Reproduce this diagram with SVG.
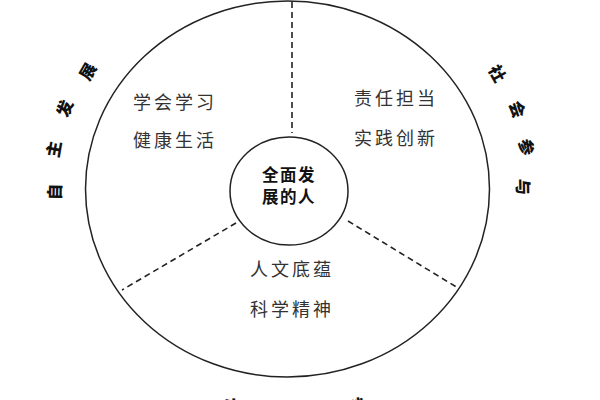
<svg xmlns="http://www.w3.org/2000/svg" width="600" height="400" viewBox="0 0 600 400">
<style>
.ring{fill:none;stroke:#222;stroke-width:1.5}
.dash{fill:none;stroke:#222;stroke-width:1.6;stroke-dasharray:6 4}
.in{font-family:"Noto Sans CJK SC","Noto Sans",sans-serif;font-size:18px;fill:#333;letter-spacing:3px}
.ctr{font-family:"Noto Sans CJK SC","Noto Sans",sans-serif;font-size:16.5px;font-weight:bold;fill:#111;letter-spacing:1.5px}
.side{font-family:"Noto Sans CJK SC","Noto Sans",sans-serif;font-size:16.5px;font-weight:900;fill:#111;text-anchor:middle;dominant-baseline:central}
</style>
<rect width="600" height="400" fill="#fff"/>
<g id="outer">
<ellipse class="ring" cx="287.5" cy="189" rx="202" ry="188"/>
</g>
<g id="connectors">
<line class="dash" x1="292" y1="2" x2="292" y2="133"/>
<line class="dash" x1="236" y1="223" x2="122" y2="290"/>
<line class="dash" x1="348" y1="221" x2="458" y2="288"/>
</g>
<g id="center">
<ellipse class="ring" cx="289" cy="191" rx="59" ry="54"/>
<text class="ctr" x="262" y="180.5">全面发</text>
<text class="ctr" x="262" y="203">展的人</text>
</g>
<g id="sector-left">
<text class="in" x="133" y="108.5">学会学习</text>
<text class="in" x="133" y="147">健康生活</text>
</g>
<g id="sector-right">
<text class="in" x="354" y="105">责任担当</text>
<text class="in" x="354" y="144.5">实践创新</text>
</g>
<g id="sector-bottom">
<text class="in" x="250" y="276">人文底蕴</text>
<text class="in" x="250" y="315.5">科学精神</text>
</g>
<g id="label-left">
<text class="side" transform="translate(54,192) rotate(-89)">自</text>
<text class="side" transform="translate(53,149) rotate(-80)">主</text>
<text class="side" transform="translate(64,108) rotate(-70)">发</text>
<text class="side" transform="translate(87,71) rotate(-60)">展</text>
</g>
<g id="label-right">
<text class="side" transform="translate(498,73) rotate(61)">社</text>
<text class="side" transform="translate(518,109) rotate(71)">会</text>
<text class="side" transform="translate(527,147) rotate(80)">参</text>
<text class="side" transform="translate(524,187) rotate(89)">与</text>
</g>
<g id="label-bottom">
<text class="side" transform="translate(232,405) rotate(15)">文</text>
<text class="side" transform="translate(273,418) rotate(5)">化</text>
<text class="side" transform="translate(316,418) rotate(-6)">基</text>
<text class="side" transform="translate(357,405) rotate(-18)">础</text>
</g>
</svg>
